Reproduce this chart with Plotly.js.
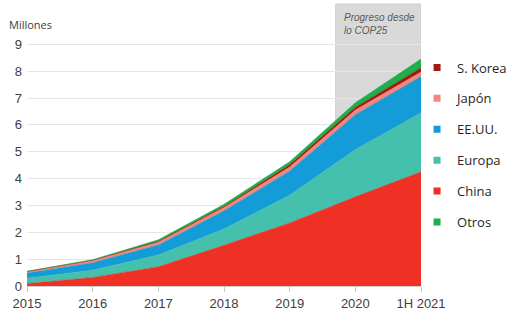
<!DOCTYPE html>
<html>
<head>
<meta charset="utf-8">
<script src="https://cdn.plot.ly/plotly-3.0.1.min.js"></script>
<style>html,body{margin:0;padding:0;background:#fff}#chart{width:520px;height:330px}</style>
</head>
<body>
<div id="chart"></div>
<script>
// Categories (x axis)
const years = ["2015", "2016", "2017", "2018", "2019", "2020", "1H 2021"];
// Series values (millions), stacked bottom to top
const china   = [0.09, 0.32, 0.72, 1.52, 2.35, 3.32, 4.25];
const europa  = [0.20, 0.27, 0.43, 0.60, 1.03, 1.76, 2.20];
const eeuu    = [0.19, 0.28, 0.38, 0.68, 0.90, 1.30, 1.35];
const japon   = [0.05, 0.08, 0.10, 0.12, 0.15, 0.17, 0.17];
const skorea  = [0.01, 0.01, 0.03, 0.04, 0.08, 0.10, 0.15];
const otros   = [0.01, 0.02, 0.06, 0.08, 0.12, 0.17, 0.33];
const yTicks  = [0, 1, 2, 3, 4, 5, 6, 7, 8, 9];

const series = [
  {name: "China",    y: china,  color: "#ee3124", rank: 5},
  {name: "Europa",   y: europa, color: "#45c0ac", rank: 4},
  {name: "EE.UU.",   y: eeuu,   color: "#139cd8", rank: 3},
  {name: "Japón",    y: japon,  color: "#f4877d", rank: 2},
  {name: "S. Korea", y: skorea, color: "#a0180f", rank: 1},
  {name: "Otros",    y: otros,  color: "#1fae4b", rank: 6}
];

const traces = [];
series.forEach(s => {
  traces.push({
    type: "scatter", x: years, y: s.y, stackgroup: "one",
    mode: "lines", line: {width: 0.5, color: s.color}, fillcolor: s.color,
    showlegend: false, hoverinfo: "skip"
  });
});
series.forEach(s => {
  traces.push({
    type: "scatter", x: [null], y: [null], mode: "markers", name: s.name,
    marker: {symbol: "square", size: 7, color: s.color},
    legendrank: s.rank, legendgroup: s.name, showlegend: true, hoverinfo: "skip"
  });
});

const layout = {
  width: 520, height: 330,
  margin: {l: 27, r: 99, t: 4, b: 44},
  paper_bgcolor: "#fff", plot_bgcolor: "#fff",
  font: {family: "Liberation Sans, Arial, sans-serif", size: 13, color: "#404040"},
  xaxis: {
    type: "category", range: [0, 6], showgrid: false, zeroline: false,
    showline: true, linecolor: "#d0d0d0", linewidth: 1,
    ticks: "outside", ticklen: 5, tickcolor: "#c8c8c8",
    tickfont: {size: 13, color: "#404040"}, fixedrange: true
  },
  yaxis: {
    range: [0, 10.5], tickvals: yTicks, showgrid: true, gridcolor: "#e6e6e6",
    gridwidth: 1, zeroline: false, showline: false, ticks: "",
    tickfont: {size: 13, color: "#404040"}, ticklabelstandoff: 4, fixedrange: true
  },
  shapes: [{
    type: "rect", xref: "x", yref: "paper", x0: 4.7, x1: 6, y0: 0, y1: 1,
    fillcolor: "#d9d9d9", line: {width: 1, color: "#cfcfcf"}, layer: "between"
  }],
  annotations: [
    {text: "Millones", xref: "paper", yref: "paper", x: -0.051, y: 0.929,
     xanchor: "left", yanchor: "middle", showarrow: false,
     font: {family: "Open Sans, DejaVu Sans, sans-serif", size: 11, color: "#404040"}},
    {text: "<i>Progreso desde<br>lo COP25</i>", xref: "x", yref: "paper", x: 4.79, y: 0.978,
     xanchor: "left", yanchor: "top", align: "left", showarrow: false,
     font: {family: "Liberation Sans, Arial, sans-serif", size: 10, color: "#595959"}}
  ],
  legend: {
    x: 0.99, y: 0.828, xanchor: "left", yanchor: "top",
    traceorder: "grouped", tracegroupgap: 11, itemwidth: 30,
    font: {family: "Open Sans, Noto Sans, sans-serif", size: 13, color: "#262626"},
    bgcolor: "rgba(0,0,0,0)"
  },
  hovermode: false
};

Plotly.newPlot("chart", traces, layout, {displayModeBar: false, staticPlot: true});
</script>
</body>
</html>
